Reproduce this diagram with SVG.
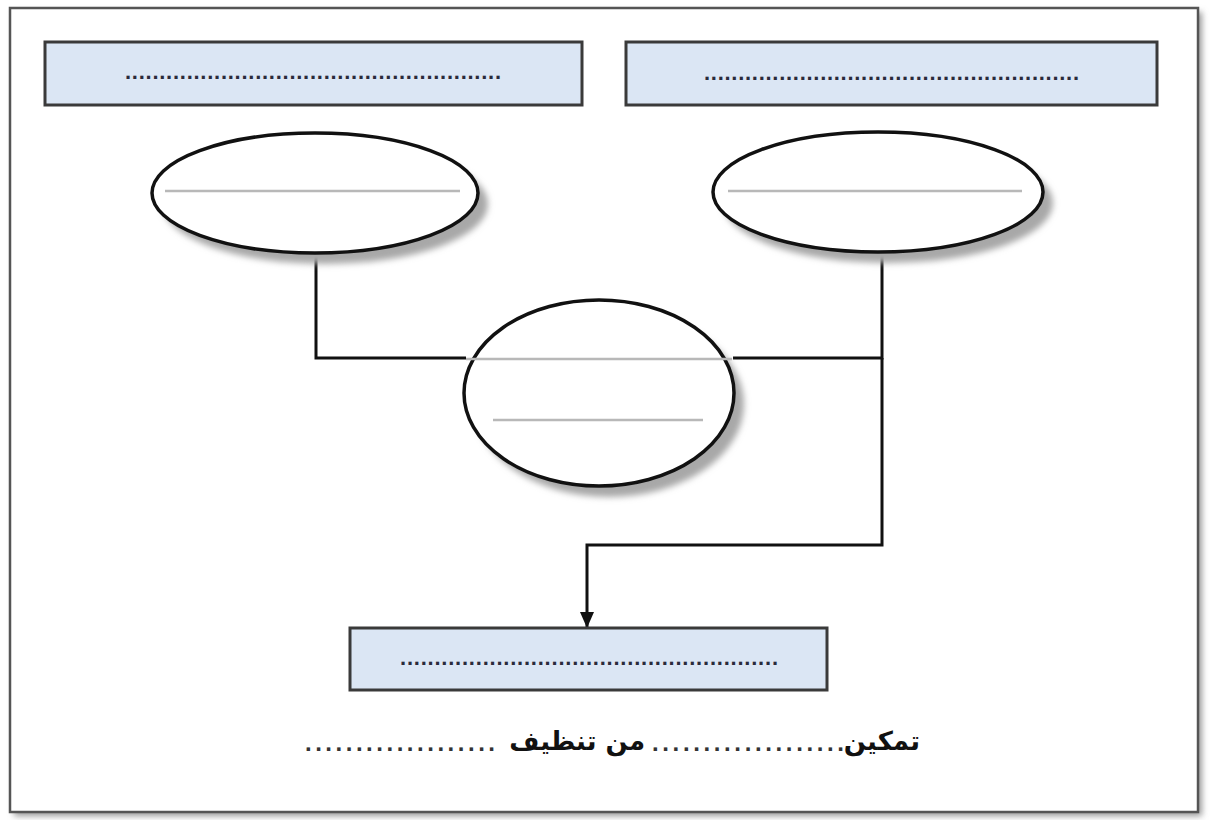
<svg xmlns="http://www.w3.org/2000/svg" width="1212" height="820" viewBox="0 0 1212 820">
<defs>
<style>
.box{fill:#dbe6f4;stroke:#3a3a3a;stroke-width:3}
.ell{fill:#ffffff;stroke:#111;stroke-width:3.5}
.shd{fill:#a8a8a8}
.gl{stroke:#b8b8b8;stroke-width:2.5;fill:none}
.con{stroke:#111;stroke-width:3;fill:none}
.dots{font-family:"Liberation Sans",sans-serif;font-size:22px;font-weight:bold;fill:#2a2a3a}
.cdots{font-family:"Liberation Sans",sans-serif;font-size:24px;font-weight:bold;fill:#333}
.lbl{font-family:"DejaVu Sans",sans-serif;font-size:26px;font-weight:bold;fill:#111}
</style>
<filter id="blur" x="-20%" y="-20%" width="140%" height="140%"><feGaussianBlur stdDeviation="3"/></filter>
<marker id="arr" markerWidth="16" markerHeight="16" refX="15" refY="8" orient="auto" markerUnits="userSpaceOnUse" viewBox="0 0 16 16">
<path d="M0,1 L16,8 L0,15 Z" fill="#111"/>
</marker>
</defs>
<rect width="1212" height="820" fill="#ffffff"/>
<g id="frame">
<rect x="14" y="12" width="1188" height="804" fill="#9a9a9a" filter="url(#blur)"/>
<rect x="10" y="8" width="1188" height="804" fill="#ffffff" stroke="#555" stroke-width="2.5"/>
</g>
<g id="box-left">
<rect class="box" x="45" y="42" width="537" height="63"/>
<text class="dots" x="125" y="79" textLength="376" lengthAdjust="spacing">.......................................................</text>
</g>
<g id="box-right">
<rect class="box" x="626" y="42" width="531" height="63"/>
<text class="dots" x="704" y="80" textLength="375" lengthAdjust="spacing">.......................................................</text>
</g>
<g id="connectors">
<polyline class="con" points="316,253 316,358 466,358"/>
<polyline class="con" points="733,358 882,358 882,252"/>
<polyline class="con" points="882,358 882,545 587,545 587,627" marker-end="url(#arr)"/>
</g>
<g id="ellipse-left">
<ellipse class="shd" cx="325" cy="204" rx="163" ry="60" filter="url(#blur)"/>
<ellipse class="ell" cx="315" cy="193" rx="163" ry="60"/>
<line class="gl" x1="165" y1="191" x2="460" y2="191"/>
</g>
<g id="ellipse-right">
<ellipse class="shd" cx="888" cy="203" rx="165" ry="60" filter="url(#blur)"/>
<ellipse class="ell" cx="878" cy="192" rx="165" ry="60"/>
<line class="gl" x1="728" y1="191" x2="1022" y2="191"/>
</g>
<g id="ellipse-center">
<ellipse class="shd" cx="609" cy="404" rx="135" ry="93" filter="url(#blur)"/>
<ellipse class="ell" cx="599" cy="393" rx="135" ry="93"/>
<line class="gl" x1="466" y1="359" x2="732" y2="359"/>
<line class="gl" x1="493" y1="420" x2="703" y2="420"/>
</g>
<g id="box-bottom">
<rect class="box" x="350" y="628" width="477" height="62"/>
<text class="dots" x="400" y="665" textLength="378" lengthAdjust="spacing">.......................................................</text>
</g>
<g id="caption">
<text class="lbl" x="920" y="750" text-anchor="end">تمكين</text>
<text class="cdots" x="652" y="751" textLength="192" lengthAdjust="spacing">...................</text>
<text class="lbl" x="645" y="750" text-anchor="end">من تنظيف</text>
<text class="cdots" x="305" y="751" textLength="190" lengthAdjust="spacing">...................</text>
</g>
</svg>
